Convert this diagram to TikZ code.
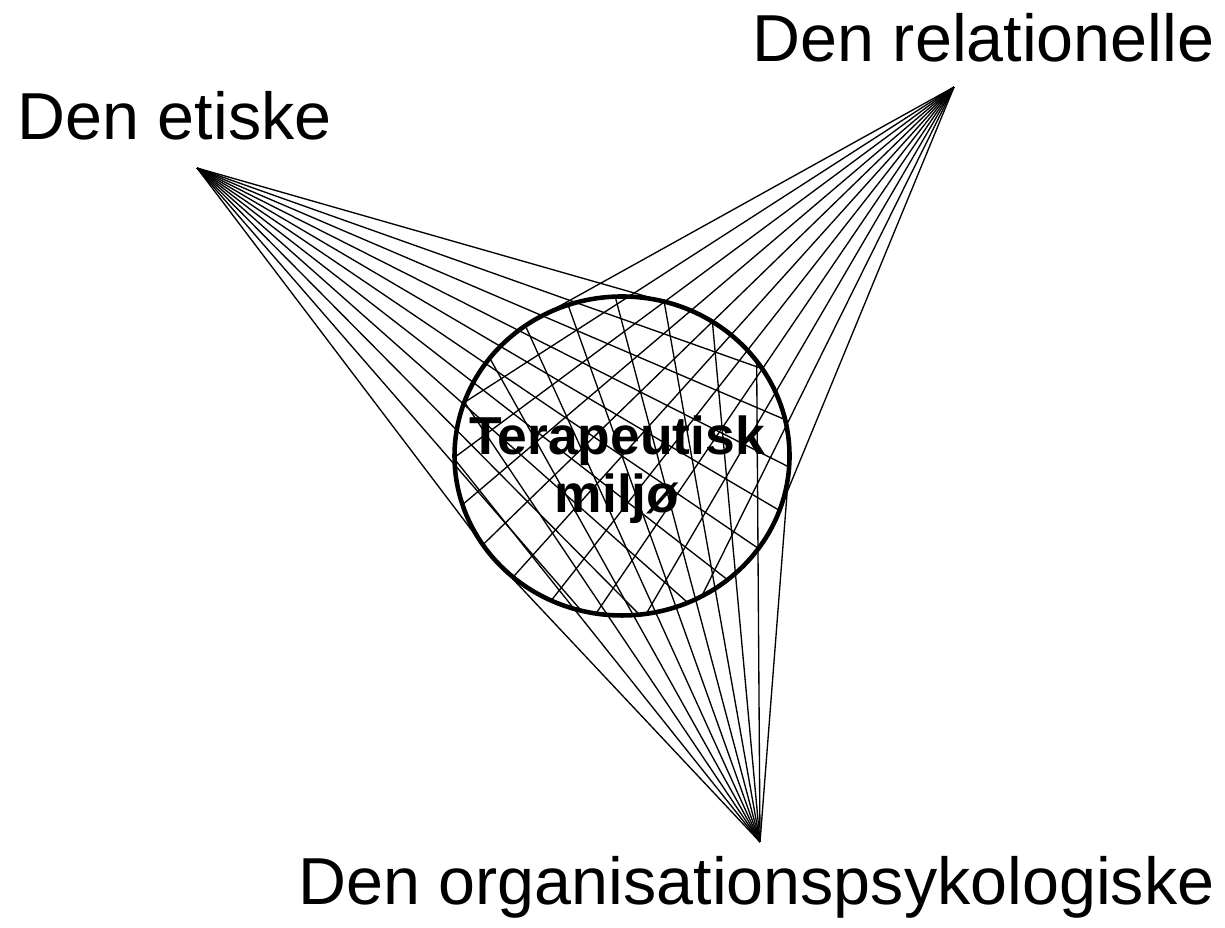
\documentclass[tikz,border=0pt]{standalone}
\usepackage{fontspec}
\setmainfont{Liberation Sans}
\begin{document}
\begin{tikzpicture}[x=1cm,y=1cm,
  fanline/.style={line width=0.38pt, black},
  circ/.style={line width=1.3pt, black},
  lbl/.style={inner sep=0pt, font=\fontsize{18.9}{22}\selectfont},
  ctr/.style={inner sep=0pt, font=\fontsize{15.2}{17}\selectfont\bfseries}]
\useasboundingbox (0,0) rectangle (12.25,9.28);
\def\rad{1.675}
\begin{scope}[shift={(6.22,4.72)}, yscale=0.9522]
  \coordinate (E) at (-4.25,3.0245);
  \coordinate (R) at (3.32,3.875);
  \coordinate (O) at (1.38,-4.054);
  \draw[circ] (0,0) circle (\rad);
  \foreach \P/\px/\py in {E/-4.25/3.0245, R/3.32/3.875, O/1.38/-4.054} {
    \pgfmathsetmacro\dd{sqrt(\px*\px+\py*\py)}
    \pgfmathsetmacro\ph{atan2(-\py,-\px)}
    \pgfmathsetmacro\alp{asin(\rad/\dd)}
    \pgfmathsetmacro\cc{\dd*\dd-\rad*\rad}
    \foreach \k in {0,...,10} {
      \pgfmathsetmacro\th{\ph-\alp+2*\alp*\k/10}
      \pgfmathsetmacro\bb{\px*cos(\th)+\py*sin(\th)}
      \pgfmathsetmacro\tlen{-\bb+sqrt(max(0,\bb*\bb-\cc))}
      \draw[fanline] (\P) -- ++(\th:\tlen);
    }
  }
\end{scope}
\node[lbl, anchor=base west] (etisk) at (0.17,7.88) {Den etiske};
\node[lbl, anchor=base east] (relat) at (12.15,8.66) {Den relationelle};
\node[lbl, anchor=base west] (organ) at (2.98,0.23) {Den organisationspsykologiske};
\node[ctr, anchor=base] (ter) at (6.17,4.73) {Terapeutisk};
\node[ctr, anchor=base] (mil) at (6.17,4.15) {miljø};
\end{tikzpicture}
\end{document}
